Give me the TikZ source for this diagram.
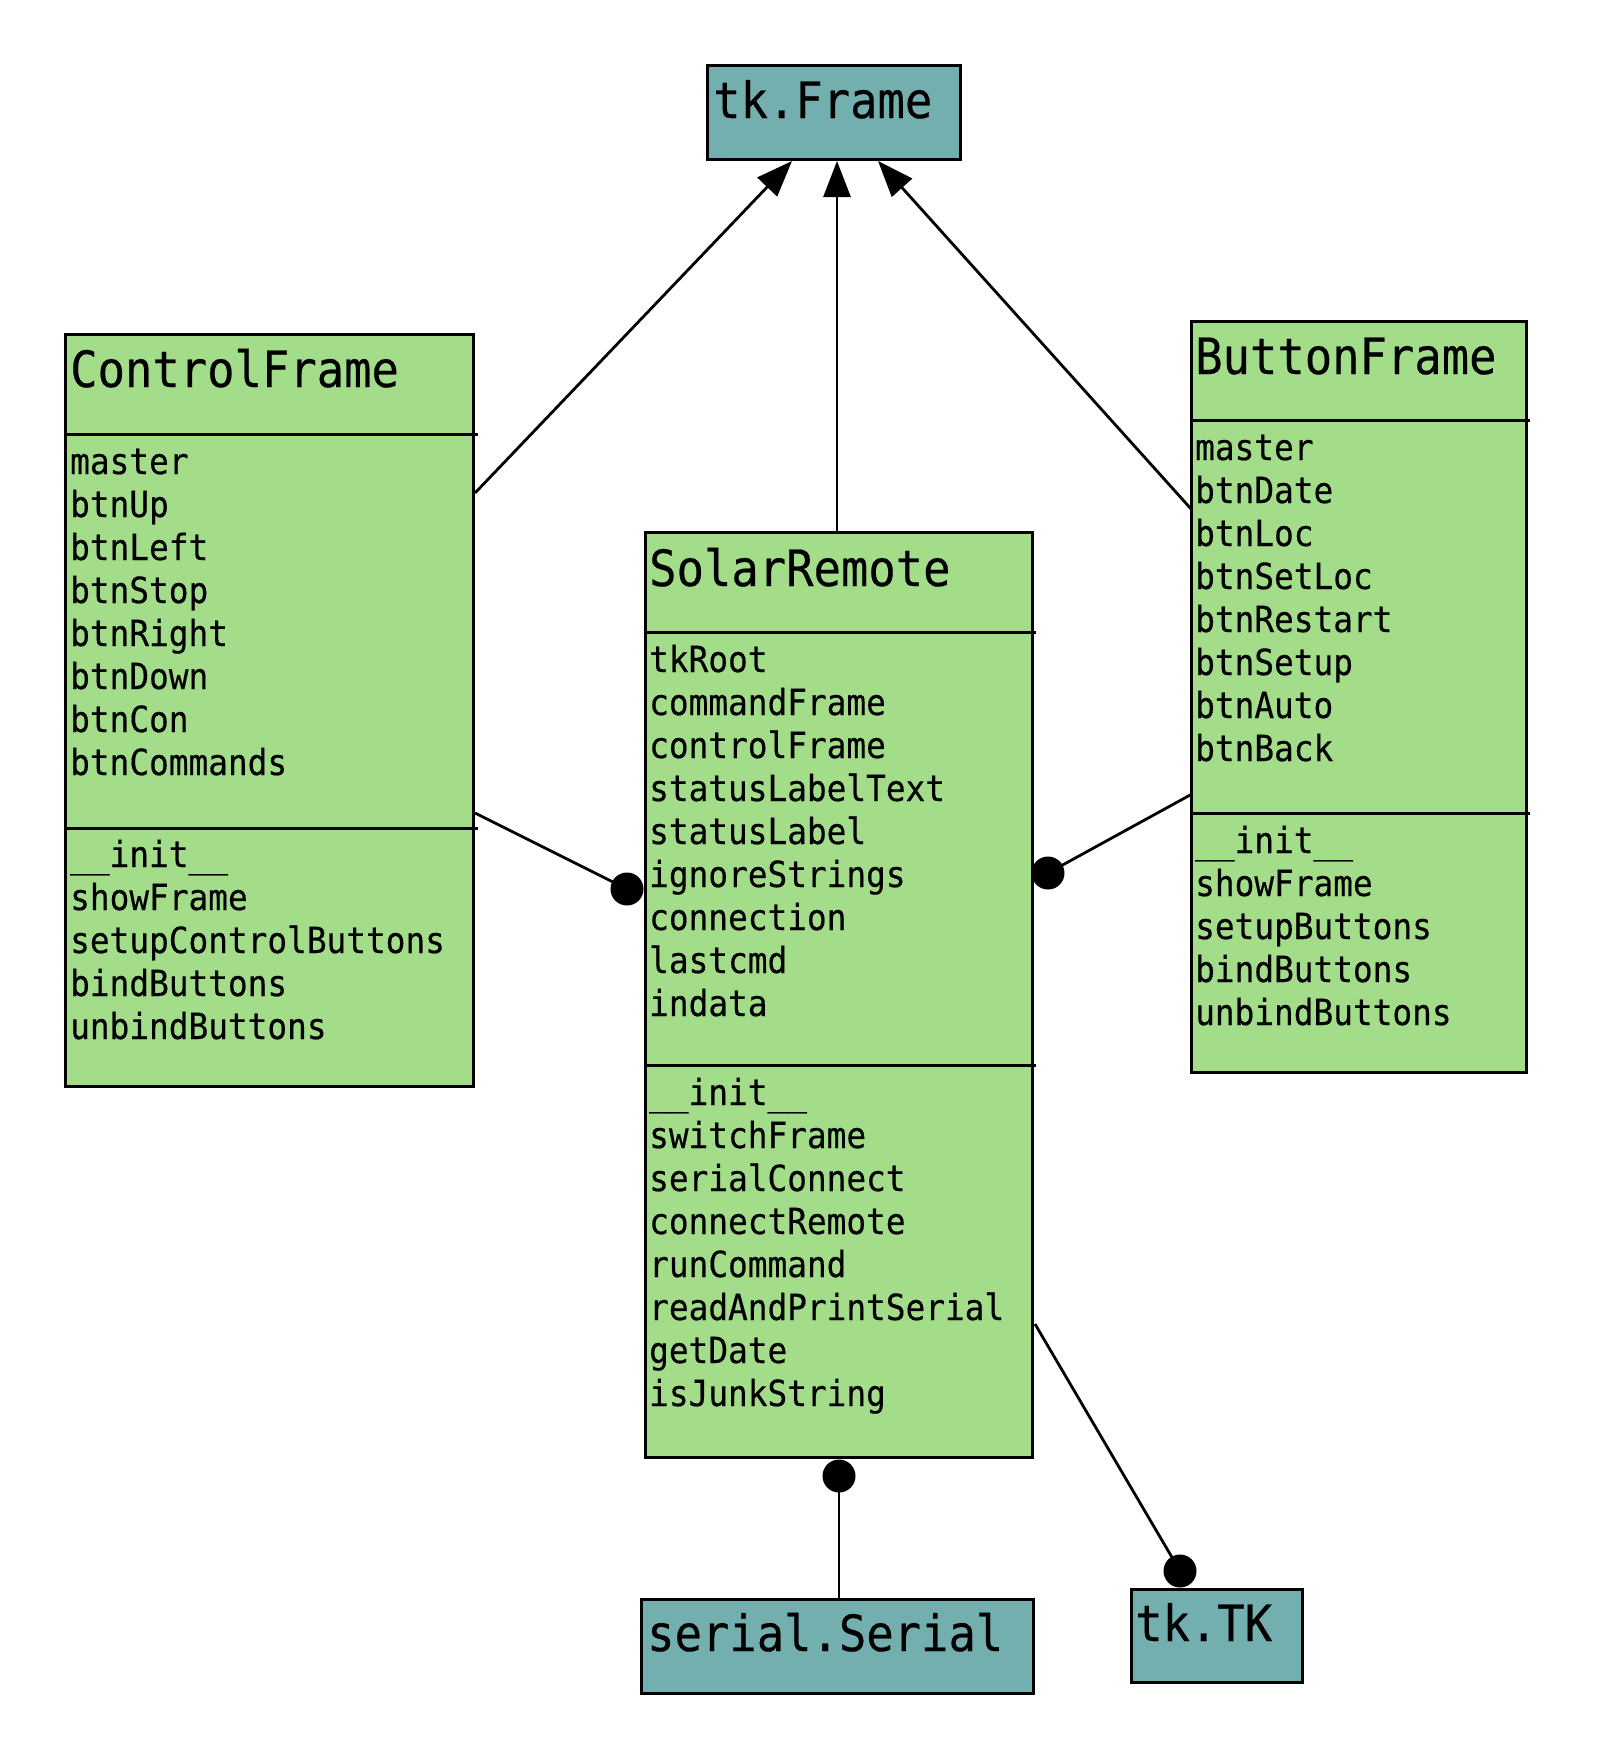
\documentclass[tikz,border=0pt]{standalone}
\usepackage{fontspec}
\usetikzlibrary{arrows.meta}
\newfontfamily\umlfont[FakeStretch=0.91,FakeBold=0.4]{DejaVu Sans Mono}
\definecolor{boxgreen}{RGB}{163,221,138}
\definecolor{boxteal}{RGB}{115,175,175}
\begin{document}
\begin{tikzpicture}[x=1pt,y=-1pt,
  box/.style={draw=black, line width=3pt, inner sep=0pt, outer sep=0pt, anchor=north west},
  greenbox/.style={box, fill=boxgreen},
  tealbox/.style={box, fill=boxteal},
  title/.style={inner sep=0pt, anchor=base west, font=\umlfont\fontsize{50}{60}\selectfont},
  attr/.style={inner sep=0pt, anchor=base west, font=\umlfont\fontsize{36}{43}\selectfont},
  divider/.style={line width=3pt},
  link/.style={line width=2.8pt},
  inh/.style={line width=2.8pt, -{Triangle[length=36pt,width=27pt]}},
  dot/.style={circle, fill=black, minimum size=33pt, inner sep=0pt, outer sep=0pt}]
\useasboundingbox (0,0) rectangle (1612,1764);

\coordinate (tkfl) at (792,161);
\coordinate (tkfm) at (837,161);
\coordinate (tkfr) at (878,161);

% boxes
\node[tealbox, minimum width=253pt, minimum height=94pt] (tkf) at (707,65) {};
\node[greenbox, minimum width=408pt, minimum height=752pt] (cf) at (65,334) {};
\node[greenbox, minimum width=387pt, minimum height=925pt] (sr) at (645,532) {};
\node[greenbox, minimum width=335pt, minimum height=751pt] (bf) at (1191,321) {};
\node[tealbox, minimum width=392pt, minimum height=94pt] (ser) at (641,1599) {};
\node[tealbox, minimum width=171pt, minimum height=93pt] (tktk) at (1131,1589) {};

% titles
\node[title] (tkft) at (713,118) {tk.Frame};
\node[title] (sert) at (647,1651) {serial.Serial};
\node[title] (tktkt) at (1135,1641) {tk.TK};
\node[title] (cft) at (70,387) {ControlFrame};
\node[title] (srt) at (649,586) {SolarRemote};
\node[title] (bft) at (1195,374) {ButtonFrame};

% dividers
\draw[divider] (cf.west |- 0,434) -- ([xshift=5pt]cf.east |- 0,434);
\draw[divider] (cf.west |- 0,828) -- ([xshift=5pt]cf.east |- 0,828);
\draw[divider] (sr.west |- 0,632) -- ([xshift=4pt]sr.east |- 0,632);
\draw[divider] (sr.west |- 0,1065) -- ([xshift=4pt]sr.east |- 0,1065);
\draw[divider] (bf.west |- 0,420) -- ([xshift=4pt]bf.east |- 0,420);
\draw[divider] (bf.west |- 0,813) -- ([xshift=4pt]bf.east |- 0,813);

% ControlFrame members
\foreach \t [count=\i] in {master,btnUp,btnLeft,btnStop,btnRight,btnDown,btnCon,btnCommands}
  \node[attr] (cfa\i) at (70,{474+43*(\i-1)}) {\t};
\foreach \t [count=\i] in {\_\_init\_\_,showFrame,setupControlButtons,bindButtons,unbindButtons}
  \node[attr] (cfm\i) at (70,{867+43*(\i-1)}) {\t};

% SolarRemote members
\foreach \t [count=\i] in {tkRoot,commandFrame,controlFrame,statusLabelText,statusLabel,ignoreStrings,connection,lastcmd,indata}
  \node[attr] (sra\i) at (649,{672+43*(\i-1)}) {\t};
\foreach \t [count=\i] in {\_\_init\_\_,switchFrame,serialConnect,connectRemote,runCommand,readAndPrintSerial,getDate,isJunkString}
  \node[attr] (srm\i) at (649,{1105+43*(\i-1)}) {\t};

% ButtonFrame members
\foreach \t [count=\i] in {master,btnDate,btnLoc,btnSetLoc,btnRestart,btnSetup,btnAuto,btnBack}
  \node[attr] (bfa\i) at (1195,{460+43*(\i-1)}) {\t};
\foreach \t [count=\i] in {\_\_init\_\_,showFrame,setupButtons,bindButtons,unbindButtons}
  \node[attr] (bfm\i) at (1195,{853+43*(\i-1)}) {\t};

% inheritance arrows
\draw[inh] ([xshift=2pt]cf.east |- 0,493) -- (tkfl);
\draw[inh] (sr.north -| 837,0) -- (tkfm);
\draw[inh] ([xshift=1pt]bf.west |- 0,510) -- (tkfr);

% composition dots
\node[dot] (d1) at (627,889) {};
\node[dot] (d2) at (1048,873) {};
\node[dot] (d3) at (839,1476) {};
\node[dot] (d4) at (1180,1571) {};

\draw[link] ([xshift=2pt]cf.east |- 0,813) -- (d1.center);
\draw[link] ([xshift=1pt]bf.west |- 0,794) -- (d2.center);
\draw[link] (d3 |- ser.north) -- (d3.center);
\draw[link] ([xshift=3pt]sr.east |- 0,1324) -- (d4.center);
\end{tikzpicture}
\end{document}
